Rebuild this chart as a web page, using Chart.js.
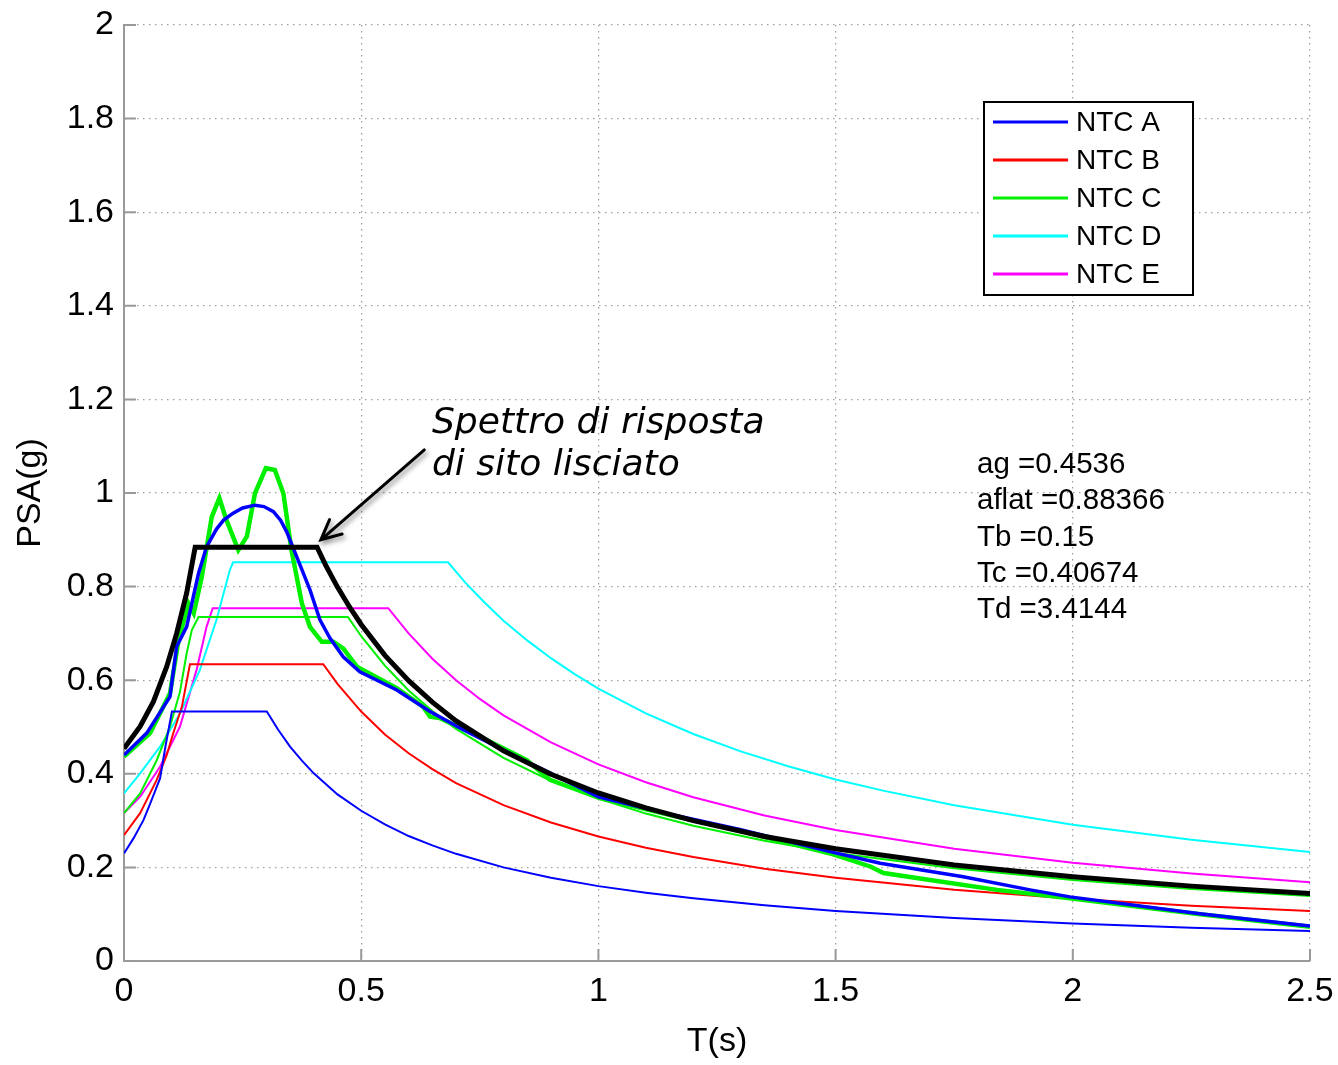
<!DOCTYPE html>
<html>
<head>
<meta charset="utf-8">
<script src="https://cdn.jsdelivr.net/npm/chart.js@4.4.0/dist/chart.umd.min.js"></script>
<style>
html, body { margin: 0; padding: 0; background: #fff; }
</style>
</head>
<body>
<canvas id="psa" width="1338" height="1065"></canvas>
<script>
// axis ticks
var xTicks = [0, 0.5, 1, 1.5, 2, 2.5];
var xTickLabels = ['0', '0.5', '1', '1.5', '2', '2.5'];
var yTicks = [0, 0.2, 0.4, 0.6, 0.8, 1, 1.2, 1.4, 1.6, 1.8, 2];
var yTickLabels = ['0', '0.2', '0.4', '0.6', '0.8', '1', '1.2', '1.4', '1.6', '1.8', '2'];

// NTC spectra, categories A..E
var ntcA_T = [0, 0.020, 0.041, 0.055, 0.069, 0.076, 0.088, 0.101, 0.301, 0.325, 0.35, 0.375, 0.4, 0.45, 0.5, 0.55, 0.6, 0.65, 0.7, 0.8, 0.9, 1.0, 1.1, 1.2, 1.35, 1.5, 1.75, 2.0, 2.25, 2.5];
var ntcA_PSA = [0.230, 0.262, 0.301, 0.336, 0.372, 0.390, 0.462, 0.533, 0.533, 0.494, 0.458, 0.428, 0.401, 0.356, 0.321, 0.292, 0.267, 0.247, 0.229, 0.200, 0.178, 0.160, 0.146, 0.134, 0.119, 0.107, 0.092, 0.080, 0.071, 0.064];

var ntcB_T = [0, 0.034, 0.069, 0.090, 0.104, 0.122, 0.139, 0.42, 0.45, 0.5, 0.55, 0.6, 0.65, 0.7, 0.8, 0.9, 1.0, 1.1, 1.2, 1.35, 1.5, 1.75, 2.0, 2.25, 2.5];
var ntcB_PSA = [0.269, 0.316, 0.387, 0.440, 0.487, 0.543, 0.634, 0.634, 0.592, 0.533, 0.484, 0.444, 0.410, 0.380, 0.333, 0.296, 0.266, 0.242, 0.222, 0.197, 0.178, 0.152, 0.133, 0.118, 0.107];

var ntcC_T = [0, 0.034, 0.069, 0.097, 0.118, 0.132, 0.143, 0.157, 0.472, 0.5, 0.55, 0.6, 0.65, 0.7, 0.8, 0.9, 1.0, 1.1, 1.2, 1.35, 1.5, 1.75, 2.0, 2.25, 2.5];
var ntcC_PSA = [0.316, 0.358, 0.429, 0.501, 0.575, 0.657, 0.707, 0.735, 0.735, 0.694, 0.631, 0.578, 0.534, 0.496, 0.434, 0.385, 0.347, 0.315, 0.289, 0.257, 0.231, 0.198, 0.173, 0.154, 0.139];

var ntcD_T = [0, 0.034, 0.076, 0.118, 0.160, 0.195, 0.223, 0.230, 0.683, 0.72, 0.76, 0.8, 0.85, 0.9, 0.95, 1.0, 1.1, 1.2, 1.3, 1.4, 1.5, 1.6, 1.75, 2.0, 2.25, 2.5];
var ntcD_PSA = [0.358, 0.401, 0.458, 0.529, 0.622, 0.729, 0.835, 0.852, 0.852, 0.808, 0.766, 0.727, 0.685, 0.647, 0.613, 0.582, 0.529, 0.485, 0.448, 0.416, 0.388, 0.364, 0.333, 0.291, 0.259, 0.233];

var ntcE_T = [0, 0.034, 0.076, 0.118, 0.153, 0.174, 0.187, 0.557, 0.6, 0.65, 0.7, 0.75, 0.8, 0.9, 1.0, 1.1, 1.2, 1.35, 1.5, 1.75, 2.0, 2.25, 2.5];
var ntcE_PSA = [0.316, 0.351, 0.415, 0.501, 0.622, 0.714, 0.754, 0.754, 0.700, 0.646, 0.600, 0.560, 0.525, 0.467, 0.420, 0.382, 0.350, 0.311, 0.280, 0.240, 0.210, 0.187, 0.168];

// smoothed site spectrum (black)
var smooth_T = [0, 0.034, 0.062, 0.090, 0.111, 0.132, 0.150, 0.407, 0.425, 0.45, 0.475, 0.5, 0.55, 0.6, 0.65, 0.7, 0.8, 0.9, 1.0, 1.1, 1.2, 1.35, 1.5, 1.75, 2.0, 2.25, 2.5];
var smooth_PSA = [0.454, 0.501, 0.554, 0.629, 0.700, 0.786, 0.884, 0.884, 0.846, 0.799, 0.757, 0.719, 0.653, 0.599, 0.553, 0.513, 0.449, 0.399, 0.359, 0.327, 0.300, 0.266, 0.240, 0.205, 0.180, 0.160, 0.144];

// site mean spectrum (thick blue)
var mean_T = [0, 0.048, 0.097, 0.111, 0.132, 0.157, 0.174, 0.195, 0.210, 0.230, 0.250, 0.276, 0.295, 0.315, 0.330, 0.343, 0.364, 0.392, 0.413, 0.434, 0.462, 0.497, 0.575, 0.645, 0.715, 0.786, 0.842, 0.877, 1.0, 1.158, 1.298, 1.495, 1.594, 1.769, 1.910, 1.994, 2.268, 2.5];
var mean_PSA = [0.440, 0.487, 0.565, 0.672, 0.714, 0.828, 0.885, 0.923, 0.942, 0.957, 0.968, 0.974, 0.971, 0.960, 0.942, 0.917, 0.864, 0.793, 0.729, 0.690, 0.650, 0.618, 0.579, 0.533, 0.494, 0.458, 0.429, 0.412, 0.351, 0.312, 0.281, 0.232, 0.209, 0.180, 0.152, 0.137, 0.101, 0.075];

// recorded spectrum (thick green)
var rec_T = [0, 0.055, 0.097, 0.115, 0.136, 0.147, 0.164, 0.185, 0.201, 0.216, 0.241, 0.259, 0.276, 0.299, 0.318, 0.336, 0.353, 0.375, 0.392, 0.417, 0.441, 0.462, 0.491, 0.575, 0.631, 0.645, 0.666, 0.750, 0.793, 0.849, 0.898, 1.003, 1.158, 1.298, 1.495, 1.573, 1.601, 1.699, 1.840, 1.994, 2.268, 2.5];
var rec_PSA = [0.437, 0.487, 0.572, 0.686, 0.764, 0.743, 0.821, 0.949, 0.989, 0.942, 0.878, 0.907, 0.999, 1.053, 1.049, 0.999, 0.878, 0.764, 0.714, 0.682, 0.682, 0.668, 0.629, 0.583, 0.543, 0.522, 0.519, 0.479, 0.458, 0.429, 0.387, 0.348, 0.310, 0.278, 0.228, 0.202, 0.188, 0.173, 0.152, 0.134, 0.100, 0.073];

var statLines = ['ag =0.4536', 'aflat =0.88366', 'Tb =0.15', 'Tc =0.40674', 'Td =3.4144'];
var noteLines = ['Spettro di risposta', 'di sito lisciato'];

var FONT = '"Liberation Sans", Arial, Helvetica, sans-serif';
Chart.defaults.font.family = FONT;

function pts(xs, ys) {
  return xs.map(function (x, i) { return { x: x, y: ys[i] }; });
}

function line(label, xs, ys, color, width, inLegend) {
  return {
    label: label,
    data: pts(xs, ys),
    borderColor: color,
    backgroundColor: color,
    borderWidth: width,
    pointRadius: 0,
    tension: 0,
    fill: false,
    showInLegend: inLegend
  };
}

var overlay = {
  id: 'overlay',
  beforeDatasetsDraw: function (chart) {
    var ctx = chart.ctx, a = chart.chartArea, sx = chart.scales.x, sy = chart.scales.y;
    ctx.save();
    ctx.strokeStyle = '#999';
    ctx.lineWidth = 2;
    ctx.beginPath();
    xTicks.forEach(function (v) {
      var px = sx.getPixelForValue(v);
      ctx.moveTo(px, a.bottom); ctx.lineTo(px, a.bottom - 12);
    });
    yTicks.forEach(function (v) {
      var py = sy.getPixelForValue(v);
      ctx.moveTo(a.left, py); ctx.lineTo(a.left + 12, py);
    });
    ctx.stroke();
    ctx.restore();
  },
  afterDraw: function (chart) {
    var ctx = chart.ctx, a = chart.chartArea, sx = chart.scales.x, sy = chart.scales.y;
    ctx.save();

    // legend box
    var lx = a.right - 326, ly = a.top + 77, lw = 209, lh = 193;
    ctx.fillStyle = '#fff';
    ctx.fillRect(lx, ly, lw, lh);
    ctx.strokeStyle = '#000';
    ctx.lineWidth = 2;
    ctx.strokeRect(lx, ly, lw, lh);
    ctx.font = '28px ' + FONT;
    ctx.textBaseline = 'middle';
    ctx.textAlign = 'left';
    var row = 0;
    chart.data.datasets.forEach(function (ds) {
      if (!ds.showInLegend) return;
      var cy = ly + 20 + row * 38;
      ctx.strokeStyle = ds.borderColor;
      ctx.lineWidth = 3;
      ctx.beginPath(); ctx.moveTo(lx + 9, cy); ctx.lineTo(lx + 84, cy); ctx.stroke();
      ctx.fillStyle = '#000';
      ctx.fillText(ds.label, lx + 92, cy + 1);
      row++;
    });

    // parameter text
    ctx.fillStyle = '#000';
    ctx.font = '29.5px ' + FONT;
    statLines.forEach(function (s, i) {
      ctx.fillText(s, sx.getPixelForValue(1.798), sy.getPixelForValue(1.064) + 2 + i * 36.3);
    });

    // note text, fitted to the width it has in the figure
    var nFont = '"DejaVu Sans", "Open Sans", sans-serif';
    ctx.font = 'italic 34px ' + nFont;
    var size = 34 * 333 / ctx.measureText(noteLines[0]).width;
    ctx.font = 'italic ' + size.toFixed(1) + 'px ' + nFont;
    ctx.textBaseline = 'alphabetic';
    var nx = sx.getPixelForValue(0.649);
    ctx.fillText(noteLines[0], nx, sy.getPixelForValue(1.130) + 1);
    ctx.fillText(noteLines[1], nx, sy.getPixelForValue(1.041) + 1);

    // arrow with shadow
    var x0 = sx.getPixelForValue(0.633), y0 = sy.getPixelForValue(1.092);
    var x1 = sx.getPixelForValue(0.415), y1 = sy.getPixelForValue(0.900);
    var ang = Math.atan2(y0 - y1, x0 - x1);
    ctx.shadowColor = 'rgba(0,0,0,0.45)';
    ctx.shadowBlur = 5;
    ctx.shadowOffsetX = 2;
    ctx.shadowOffsetY = 3;
    ctx.strokeStyle = '#000';
    ctx.lineWidth = 3;
    ctx.lineCap = 'round';
    ctx.beginPath();
    ctx.moveTo(x0, y0); ctx.lineTo(x1, y1);
    ctx.moveTo(x1 + 22 * Math.cos(ang - 0.45), y1 + 22 * Math.sin(ang - 0.45));
    ctx.lineTo(x1, y1);
    ctx.lineTo(x1 + 22 * Math.cos(ang + 0.45), y1 + 22 * Math.sin(ang + 0.45));
    ctx.stroke();
    ctx.restore();
  }
};

new Chart(document.getElementById('psa'), {
  type: 'line',
  data: {
    datasets: [
      line('smoothed', smooth_T, smooth_PSA, '#000000', 5, false),
      line('mean', mean_T, mean_PSA, '#0000ff', 3.5, false),
      line('record', rec_T, rec_PSA, '#00f000', 4.5, false),
      line('NTC A', ntcA_T, ntcA_PSA, '#0000ff', 2, true),
      line('NTC B', ntcB_T, ntcB_PSA, '#ff0000', 2, true),
      line('NTC C', ntcC_T, ntcC_PSA, '#00f000', 2, true),
      line('NTC D', ntcD_T, ntcD_PSA, '#00ffff', 2, true),
      line('NTC E', ntcE_T, ntcE_PSA, '#ff00ff', 2, true)
    ]
  },
  options: {
    responsive: false,
    animation: false,
    events: [],
    layout: { padding: { top: 25, right: 28, left: 0, bottom: 0 } },
    plugins: { legend: { display: false }, tooltip: { enabled: false } },
    scales: {
      x: {
        type: 'linear', min: 0, max: 2.5,
        afterBuildTicks: function (s) { s.ticks = xTicks.map(function (v) { return { value: v }; }); },
        afterFit: function (s) { s.height = 104; s.paddingLeft = 0; s.paddingRight = 0; },
        ticks: {
          autoSkip: false, maxRotation: 0, padding: 10, color: '#000',
          font: { size: 34 },
          callback: function (v, i) { return xTickLabels[i]; }
        },
        grid: { color: '#a0a0a0', lineWidth: 1.3, drawTicks: false },
        border: { display: true, color: '#9a9a9a', width: 2, dash: [1.5, 4.5] },
        title: { display: true, text: 'T(s)', color: '#000', font: { size: 34 }, padding: { top: 0, bottom: 3 } }
      },
      y: {
        type: 'linear', min: 0, max: 2,
        afterBuildTicks: function (s) { s.ticks = yTicks.map(function (v) { return { value: v }; }); },
        afterFit: function (s) { s.width = 124; s.paddingTop = 0; s.paddingBottom = 0; },
        ticks: {
          autoSkip: false, padding: 10, color: '#000',
          font: { size: 34 },
          callback: function (v, i) { return yTickLabels[i]; }
        },
        grid: { color: '#a0a0a0', lineWidth: 1.3, drawTicks: false },
        border: { display: true, color: '#9a9a9a', width: 2, dash: [1.5, 4.5] },
        title: { display: true, text: 'PSA(g)', color: '#000', font: { size: 34 }, padding: { top: 10, bottom: 0 } }
      }
    }
  },
  plugins: [overlay]
});
</script>
</body>
</html>
